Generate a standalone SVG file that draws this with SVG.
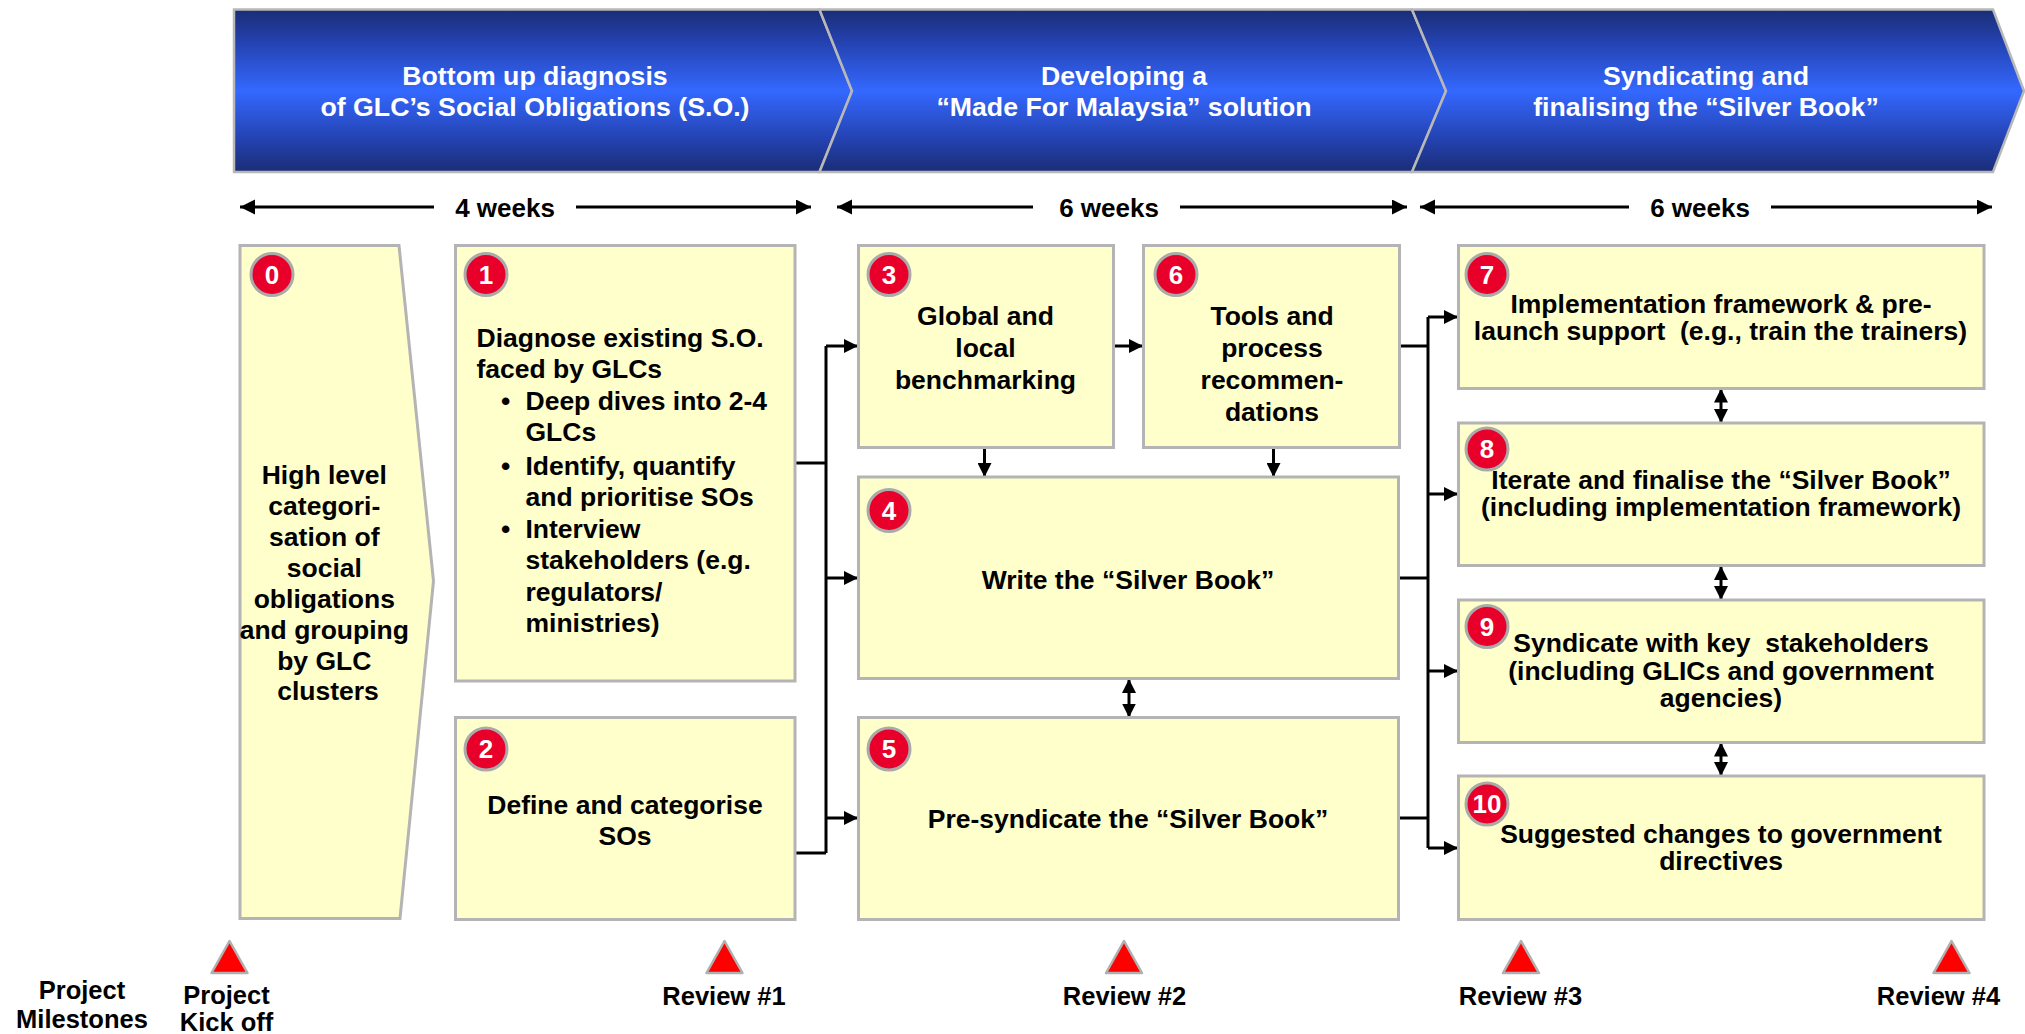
<svg xmlns="http://www.w3.org/2000/svg" width="2025" height="1034" viewBox="0 0 2025 1034">
<defs>
<linearGradient id="bannerGrad" x1="0" y1="0" x2="0" y2="1">
<stop offset="0" stop-color="#1a2d75"/>
<stop offset="0.2" stop-color="#2442b0"/>
<stop offset="0.5" stop-color="#3468ff"/>
<stop offset="0.8" stop-color="#2442b0"/>
<stop offset="1" stop-color="#1a2d75"/>
</linearGradient>
<marker id="arr" markerUnits="userSpaceOnUse" markerWidth="16" markerHeight="14" refX="14" refY="7" orient="auto-start-reverse">
<path d="M0,0 L14,7 L0,14 z" fill="#000"/>
</marker>
<marker id="arrW" markerUnits="userSpaceOnUse" markerWidth="16" markerHeight="16" refX="15" refY="7.5" orient="auto-start-reverse">
<path d="M0,0 L15,7.5 L0,15 z" fill="#000"/>
</marker>
</defs>
<style>
.t{font-family:"Liberation Sans",Arial,sans-serif;font-weight:bold;fill:#000}
.w{font-family:"Liberation Sans",Arial,sans-serif;font-weight:bold;fill:#fff;font-size:26.7px;text-anchor:middle}
.n{font-size:26.5px}
.m{text-anchor:middle}
.box{fill:#ffffcc;stroke:#b4b4b4;stroke-width:3}
.chev{fill:url(#bannerGrad);stroke:#b8b8b8;stroke-width:2.5}
.badge{fill:#e8002a;stroke:#aaaaaa;stroke-width:3}
.num{font-family:"Liberation Sans",Arial,sans-serif;font-weight:bold;fill:#fff;font-size:26px;text-anchor:middle}
.c{fill:none;stroke:#000;stroke-width:3}
.tri{fill:#ff0000;stroke:#b0b0b0;stroke-width:2.5;stroke-linejoin:round}
.lbl{font-size:25.5px;text-anchor:middle}
</style>

<g id="banner">
<polygon class="chev" points="234,9.5 819.5,9.5 852,91 819.5,172 234,172"/>
<polygon class="chev" points="819.5,9.5 1412,9.5 1446,91 1412,172 819.5,172 852,91"/>
<polygon class="chev" points="1412,9.5 1993,9.5 2024,91 1993,172 1412,172 1446,91"/>
<text class="w" x="535" y="85">Bottom up diagnosis</text>
<text class="w" x="535" y="116">of GLC’s Social Obligations (S.O.)</text>
<text class="w" x="1124" y="85">Developing a</text>
<text class="w" x="1124" y="116">“Made For Malaysia” solution</text>
<text class="w" x="1706" y="85">Syndicating and</text>
<text class="w" x="1706" y="116">finalising the “Silver Book”</text>
</g>

<g id="durations">
<line class="c" x1="240" y1="207" x2="434" y2="207" marker-start="url(#arrW)"/>
<line class="c" x1="576" y1="207" x2="811" y2="207" marker-end="url(#arrW)"/>
<text class="t m" x="505" y="216.5" font-size="26">4 weeks</text>
<line class="c" x1="837" y1="207" x2="1033" y2="207" marker-start="url(#arrW)"/>
<line class="c" x1="1180" y1="207" x2="1407" y2="207" marker-end="url(#arrW)"/>
<text class="t m" x="1109" y="216.5" font-size="26">6 weeks</text>
<line class="c" x1="1420" y1="207" x2="1629" y2="207" marker-start="url(#arrW)"/>
<line class="c" x1="1771" y1="207" x2="1992" y2="207" marker-end="url(#arrW)"/>
<text class="t m" x="1700" y="216.5" font-size="26">6 weeks</text>
</g>

<g id="connectors">
<polyline class="c" points="795,463 826,463"/>
<polyline class="c" points="795,853 826,853"/>
<line class="c" x1="826" y1="346" x2="826" y2="853"/>
<line class="c" x1="826" y1="346" x2="858" y2="346" marker-end="url(#arr)"/>
<line class="c" x1="826" y1="578" x2="858" y2="578" marker-end="url(#arr)"/>
<line class="c" x1="826" y1="818" x2="858" y2="818" marker-end="url(#arr)"/>
<line class="c" x1="1113" y1="346" x2="1143" y2="346" marker-end="url(#arr)"/>
<line class="c" x1="984.5" y1="447" x2="984.5" y2="477" marker-end="url(#arr)"/>
<line class="c" x1="1273.5" y1="447" x2="1273.5" y2="477" marker-end="url(#arr)"/>
<line class="c" x1="1129" y1="679" x2="1129" y2="717.5" marker-start="url(#arr)" marker-end="url(#arr)"/>
<line class="c" x1="1399" y1="346" x2="1428" y2="346"/>
<line class="c" x1="1399" y1="578" x2="1428" y2="578"/>
<line class="c" x1="1399" y1="818" x2="1428" y2="818"/>
<line class="c" x1="1428" y1="317" x2="1428" y2="848"/>
<line class="c" x1="1428" y1="317" x2="1458" y2="317" marker-end="url(#arr)"/>
<line class="c" x1="1428" y1="494" x2="1458" y2="494" marker-end="url(#arr)"/>
<line class="c" x1="1428" y1="671" x2="1458" y2="671" marker-end="url(#arr)"/>
<line class="c" x1="1428" y1="848" x2="1458" y2="848" marker-end="url(#arr)"/>
<line class="c" x1="1721" y1="388.5" x2="1721" y2="423" marker-start="url(#arr)" marker-end="url(#arr)"/>
<line class="c" x1="1721" y1="566" x2="1721" y2="600" marker-start="url(#arr)" marker-end="url(#arr)"/>
<line class="c" x1="1721" y1="742.5" x2="1721" y2="776" marker-start="url(#arr)" marker-end="url(#arr)"/>
</g>

<g id="node0">
<polygon class="box" points="240,245.5 399,245.5 433.5,581 400,918.5 240,918.5"/>
<circle class="badge" cx="272" cy="274.5" r="21"/>
<text class="num" x="272" y="283.5">0</text>
<text class="t n m" x="328">
<tspan x="328" y="483.5">High level</tspan>
<tspan x="328" y="514.5">categori-</tspan>
<tspan x="328" y="545.5">sation of</tspan>
<tspan x="328" y="576.5">social</tspan>
<tspan x="328" y="607.5">obligations</tspan>
<tspan x="328" y="638.5">and grouping</tspan>
<tspan x="328" y="669.5">by GLC</tspan>
<tspan x="328" y="700">clusters</tspan>
</text>
</g>

<g id="node1">
<rect class="box" x="455.5" y="245.5" width="339.5" height="435.5"/>
<circle class="badge" cx="486" cy="274.5" r="21"/>
<text class="num" x="486" y="283.5">1</text>
<text class="t n">
<tspan x="476.5" y="347">Diagnose existing S.O.</tspan>
<tspan x="476.5" y="378">faced by GLCs</tspan>
</text>
<text class="t n">
<tspan x="501" y="409.5">•</tspan>
<tspan x="525.5" y="409.5">Deep dives into 2-4</tspan>
<tspan x="525.5" y="440.5">GLCs</tspan>
<tspan x="501" y="474.5">•</tspan>
<tspan x="525.5" y="474.5">Identify, quantify</tspan>
<tspan x="525.5" y="505.5">and prioritise SOs</tspan>
<tspan x="501" y="538">•</tspan>
<tspan x="525.5" y="538">Interview</tspan>
<tspan x="525.5" y="569">stakeholders (e.g.</tspan>
<tspan x="525.5" y="600.5">regulators/</tspan>
<tspan x="525.5" y="631.5">ministries)</tspan>
</text>
</g>

<g id="node2">
<rect class="box" x="455.5" y="717.5" width="339.5" height="202"/>
<circle class="badge" cx="486" cy="749" r="21"/>
<text class="num" x="486" y="758">2</text>
<text class="t n m"><tspan x="625" y="814">Define and categorise</tspan><tspan x="625" y="845">SOs</tspan></text>
</g>

<g id="node3">
<rect class="box" x="858.5" y="245.5" width="255" height="202"/>
<circle class="badge" cx="889" cy="274.5" r="21"/>
<text class="num" x="889" y="283.5">3</text>
<text class="t n m"><tspan x="985.5" y="325">Global and</tspan><tspan x="985.5" y="357">local</tspan><tspan x="985.5" y="388.5">benchmarking</tspan></text>
</g>

<g id="node6">
<rect class="box" x="1143.5" y="245.5" width="256" height="202"/>
<circle class="badge" cx="1176" cy="274.5" r="21"/>
<text class="num" x="1176" y="283.5">6</text>
<text class="t n m"><tspan x="1272" y="325">Tools and</tspan><tspan x="1272" y="357">process</tspan><tspan x="1272" y="389">recommen-</tspan><tspan x="1272" y="421">dations</tspan></text>
</g>

<g id="node4">
<rect class="box" x="858.5" y="477" width="540" height="201.5"/>
<circle class="badge" cx="889" cy="510.5" r="21"/>
<text class="num" x="889" y="519.5">4</text>
<text class="t n m" x="1128" y="588.5">Write the “Silver Book”</text>
</g>

<g id="node5">
<rect class="box" x="858.5" y="717.5" width="540" height="202"/>
<circle class="badge" cx="889" cy="749" r="21"/>
<text class="num" x="889" y="758">5</text>
<text class="t n m" x="1128" y="828">Pre-syndicate the “Silver Book”</text>
</g>

<g id="node7">
<rect class="box" x="1458.5" y="245.5" width="525.5" height="143"/>
<circle class="badge" cx="1487" cy="274.5" r="21"/>
<text class="num" x="1487" y="283.5">7</text>
<text class="t n m" xml:space="preserve"><tspan x="1721" y="312.5">Implementation framework &amp; pre-</tspan><tspan x="1720.5" y="339.5">launch support  (e.g., train the trainers)</tspan></text>
</g>

<g id="node8">
<rect class="box" x="1458.5" y="423" width="525.5" height="142.5"/>
<circle class="badge" cx="1487" cy="449" r="21"/>
<text class="num" x="1487" y="458">8</text>
<text class="t n m"><tspan x="1721" y="489">Iterate and finalise the “Silver Book”</tspan><tspan x="1721" y="515.5">(including implementation framework)</tspan></text>
</g>

<g id="node9">
<rect class="box" x="1458.5" y="600" width="525.5" height="142.5"/>
<circle class="badge" cx="1487" cy="626.5" r="21"/>
<text class="num" x="1487" y="635.5">9</text>
<text class="t n m" xml:space="preserve"><tspan x="1721" y="652">Syndicate with key  stakeholders</tspan><tspan x="1721" y="679.5">(including GLICs and government</tspan><tspan x="1721" y="706.5">agencies)</tspan></text>
</g>

<g id="node10">
<rect class="box" x="1458.5" y="776" width="525.5" height="143.5"/>
<circle class="badge" cx="1487" cy="804" r="21"/>
<text class="num" x="1487" y="813">10</text>
<text class="t n m"><tspan x="1721" y="843">Suggested changes to government</tspan><tspan x="1721" y="870">directives</tspan></text>
</g>

<g id="milestones">
<polygon class="tri" points="229.5,941 247.5,973 211.5,973"/>
<polygon class="tri" points="724.5,941 742.5,973 706.5,973"/>
<polygon class="tri" points="1124,941 1142,973 1106,973"/>
<polygon class="tri" points="1521,941 1539,973 1503,973"/>
<polygon class="tri" points="1951.5,941 1969.5,973 1933.5,973"/>
<text class="t lbl"><tspan x="82" y="999">Project</tspan><tspan x="82" y="1027.5">Milestones</tspan></text>
<text class="t lbl"><tspan x="226.5" y="1004">Project</tspan><tspan x="226.5" y="1030.5">Kick off</tspan></text>
<text class="t lbl" x="724" y="1004.5">Review #1</text>
<text class="t lbl" x="1124.5" y="1004.5">Review #2</text>
<text class="t lbl" x="1520.5" y="1004.5">Review #3</text>
<text class="t lbl" x="1938.5" y="1004.5">Review #4</text>
</g>
</svg>
